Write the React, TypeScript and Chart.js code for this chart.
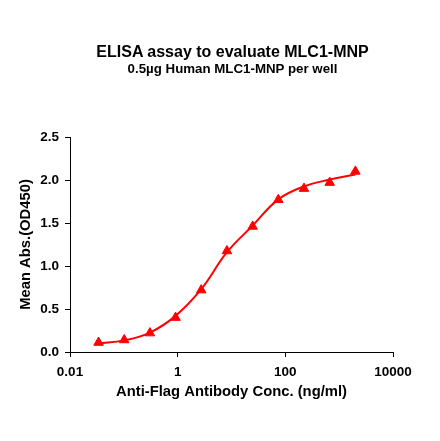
import React, { useEffect, useRef } from "react";
import { Chart, registerables } from "chart.js";

Chart.register(...registerables);

const concentrations = [0.0339, 0.1016, 0.305, 0.914, 2.74, 8.23, 24.7, 74.1, 222, 667, 2000];
const measuredOD = [0.11, 0.14, 0.22, 0.4, 0.72, 1.175, 1.46, 1.77, 1.9, 1.97, 2.1];
const fittedOD = [0.1, 0.135, 0.225, 0.42, 0.73, 1.16, 1.47, 1.775, 1.925, 2.005, 2.065];
const xTickValues = [0.01, 1, 100, 10000];
const xTickLabels = ["0.01", "1", "100", "10000"];
const yTickValues = [0, 0.5, 1, 1.5, 2, 2.5];
const yTickLabels = ["0.0", "0.5", "1.0", "1.5", "2.0", "2.5"];

const titleText = "ELISA assay to evaluate MLC1-MNP";
const subtitleText = "0.5\u00b5g Human MLC1-MNP per well";
const xTitleText = "Anti-Flag Antibody Conc. (ng/ml)";
const yTitleText = "Mean Abs.(OD450)";

const FONT = "'Liberation Sans', Arial, Helvetica, sans-serif";
const RED = "#ff0000";

export default function App() {
  const ref = useRef<HTMLCanvasElement | null>(null);

  useEffect(() => {
    document.body.style.margin = "0";
    const canvas = ref.current;
    if (!canvas) return;
    const chart = new Chart(canvas, {
      type: "scatter",
      data: {
        datasets: [
          {
            label: "measured",
            data: concentrations.map((x, i) => ({ x, y: measuredOD[i] })),
            pointStyle: "triangle",
            pointRadius: 5.5,
            backgroundColor: RED,
            borderColor: RED,
            borderWidth: 1,
            showLine: false,
            order: 0,
          },
          {
            label: "fit",
            data: concentrations.map((x, i) => ({ x, y: fittedOD[i] })),
            showLine: true,
            pointRadius: 0,
            borderColor: RED,
            borderWidth: 2,
            tension: 0.4,
            order: 1,
          },
        ],
      },
      options: {
        animation: false,
        responsive: false,
        layout: { padding: { top: 137, left: 0, right: 47, bottom: 0 } },
        plugins: {
          legend: { display: false },
          tooltip: { enabled: false },
          title: { display: false },
        },
        scales: {
          x: {
            type: "logarithmic",
            min: 0.01,
            max: 10000,
            afterFit: (scale: any) => {
              scale.height = 89;
            },
            afterBuildTicks: (scale: any) => {
              scale.ticks = xTickValues.map((v) => ({ value: v }));
            },
            ticks: {
              color: "#000",
              font: { family: FONT, size: 13.5, weight: "bold" },
              padding: 7,
              maxRotation: 0,
              autoSkip: false,
              callback: (value: any) => {
                const i = xTickValues.indexOf(Number(value));
                return i >= 0 ? xTickLabels[i] : "";
              },
            },
            grid: {
              drawOnChartArea: false,
              drawTicks: true,
              tickLength: 5,
              color: "#000",
            },
            border: { display: true, color: "#000", width: 1 },
            title: {
              display: true,
              text: xTitleText,
              color: "#000",
              font: { family: FONT, size: 14.8, weight: "bold" },
              padding: { top: 0, bottom: 40 },
            },
          },
          y: {
            type: "linear",
            min: 0,
            max: 2.5,
            afterFit: (scale: any) => {
              scale.width = 70;
            },
            afterBuildTicks: (scale: any) => {
              scale.ticks = yTickValues.map((v) => ({ value: v }));
            },
            ticks: {
              color: "#000",
              font: { family: FONT, size: 13.5, weight: "bold" },
              padding: 6,
              callback: (value: any) => {
                const i = yTickValues.indexOf(Number(value));
                return i >= 0 ? yTickLabels[i] : "";
              },
            },
            grid: {
              drawOnChartArea: false,
              drawTicks: true,
              tickLength: 5,
              color: "#000",
            },
            border: { display: true, color: "#000", width: 1 },
            title: {
              display: true,
              text: yTitleText,
              color: "#000",
              font: { family: FONT, size: 14.8, weight: "bold" },
              padding: { top: 17, bottom: 0 },
            },
          },
        },
      },
    });
    return () => chart.destroy();
  }, []);

  const titleBox: React.CSSProperties = {
    position: "absolute",
    left: 232.5 - 200,
    width: 400,
    textAlign: "center",
    fontFamily: FONT,
    fontWeight: "bold",
    color: "#000",
    lineHeight: 1,
    whiteSpace: "nowrap",
  };

  return (
    <div style={{ position: "relative", width: 440, height: 441, background: "#fff" }}>
      <canvas ref={ref} width={440} height={441} style={{ display: "block" }} />
      <div style={{ ...titleBox, top: 44, fontSize: 16 }}>{titleText}</div>
      <div style={{ ...titleBox, top: 61.5, fontSize: 13.3 }}>{subtitleText}</div>
    </div>
  );
}
